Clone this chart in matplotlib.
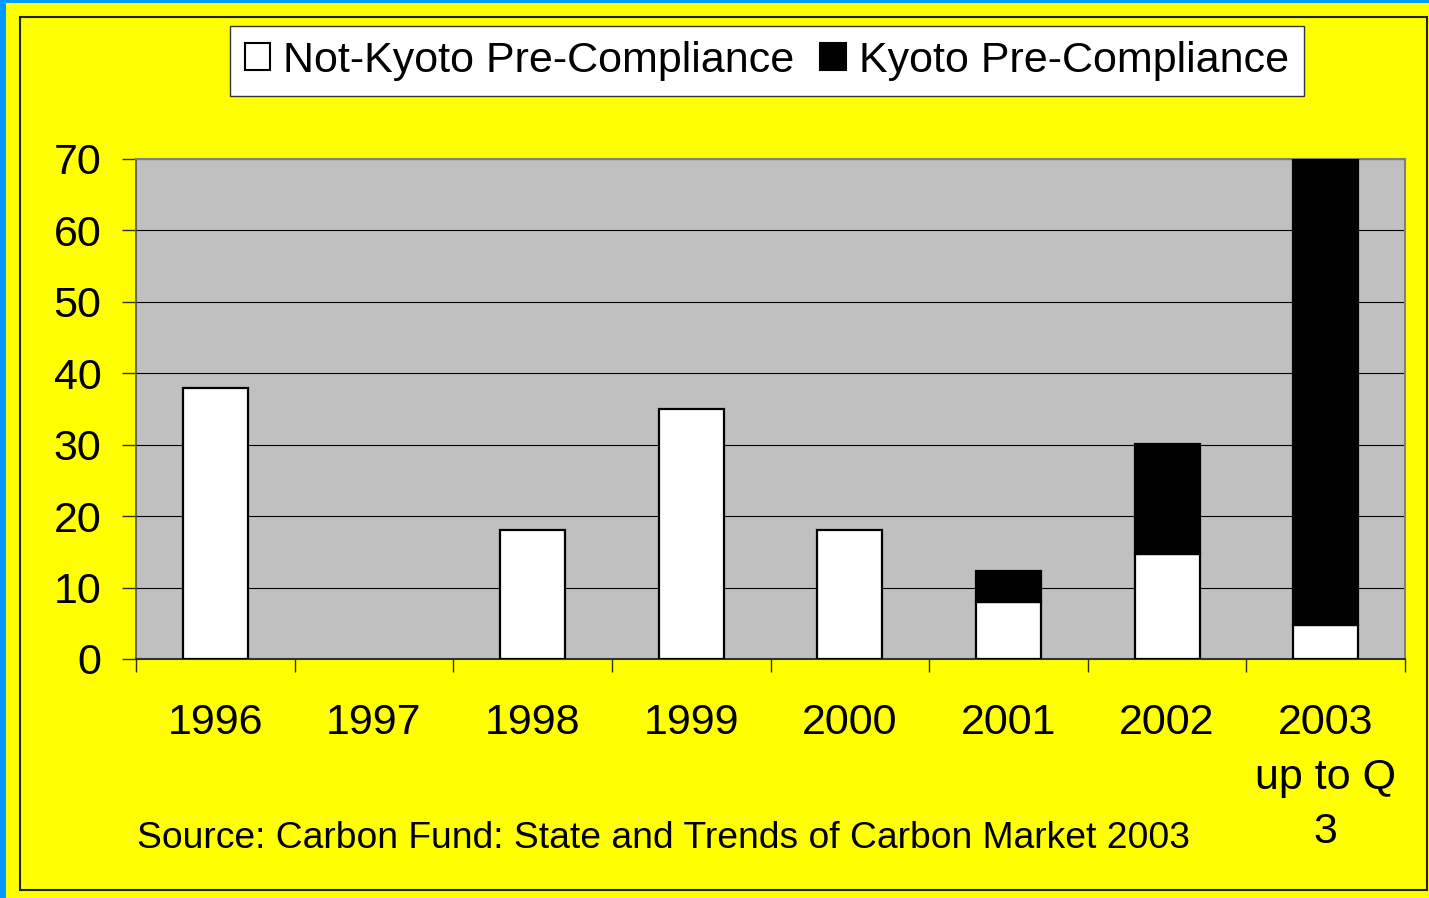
import matplotlib
matplotlib.use("Agg")
import matplotlib.pyplot as plt
from matplotlib.patches import Patch, Rectangle
import numpy as np

plt.rcParams['font.family'] = ['Liberation Sans', 'DejaVu Sans']

categories = ["1996", "1997", "1998", "1999", "2000", "2001", "2002", "2003\nup to Q\n3"]
not_kyoto = [38, 0, 18, 35, 18, 8, 14.7, 4.8]
kyoto = [0, 0, 0, 0, 0, 4.3, 15.4, 65.2]
series_names = ["Not-Kyoto Pre-Compliance", "Kyoto Pre-Compliance"]
yticks = [0, 10, 20, 30, 40, 50, 60, 70]
source_text = "Source: Carbon Fund: State and Trends of Carbon Market 2003"

W, H = 1429, 898
fig = plt.figure(figsize=(W / 100, H / 100), dpi=100)
fig.patch.set_facecolor('#FFFF00')

# blue edges (left and top)
fig.patches.append(Rectangle((0, 0), 6 / W, 1, transform=fig.transFigure,
                             facecolor='#0099FF', edgecolor='none', zorder=0))
fig.patches.append(Rectangle((0, 1 - 3 / H), 1, 3 / H, transform=fig.transFigure,
                             facecolor='#0099FF', edgecolor='none', zorder=0))
# inner black frame
fig.patches.append(Rectangle((20 / W, 1 - 890 / H), (1427 - 20) / W, (890 - 17) / H,
                             transform=fig.transFigure, facecolor='none',
                             edgecolor='#222200', linewidth=1.5, zorder=1))

ax = fig.add_axes([136 / W, 1 - 659 / H, (1405 - 136) / W, (659 - 159) / H])
ax.set_facecolor('#C0C0C0')

x = np.arange(len(categories))
bw = 0.41
lw_nk = [1.6 if v > 0 else 0 for v in not_kyoto]
lw_k = [1.6 if v > 0 else 0 for v in kyoto]
ax.bar(x, not_kyoto, bw, color='white', edgecolor='black', linewidth=lw_nk, zorder=3)
ax.bar(x, kyoto, bw, bottom=not_kyoto, color='black', edgecolor='black', linewidth=lw_k, zorder=3)

ax.set_xlim(-0.5, len(categories) - 0.5)
ax.set_ylim(0, 70)
ax.set_yticks(yticks)
ax.yaxis.grid(True, color='black', linewidth=0.8, zorder=1)
ax.set_axisbelow(True)

ax.set_xticks(x)
ax.set_xticklabels(categories, fontsize=31, linespacing=1.46)
ax.set_xticks(np.arange(-0.5, len(categories)), minor=True)
ax.tick_params(axis='x', which='major', length=0, pad=32)
ax.tick_params(axis='x', which='minor', length=9, width=1, color='#333300', direction='out')
ax.tick_params(axis='y', labelsize=31, length=10, width=1, color='#333300', pad=15)

for s in ['top', 'right']:
    ax.spines[s].set_color('#808080')
    ax.spines[s].set_linewidth(1.5)
ax.spines['left'].set_color('#555555')
ax.spines['left'].set_linewidth(1.2)
ax.spines['bottom'].set_color('#333333')
ax.spines['bottom'].set_linewidth(1.5)

handles = [Patch(facecolor='white', edgecolor='black', linewidth=1.5),
           Patch(facecolor='black', edgecolor='black', linewidth=1.5)]
leg = fig.legend(handles, series_names, loc='center', bbox_to_anchor=(767 / W, 1 - 61 / H),
                 ncol=2, fontsize=31, frameon=True, fancybox=False, shadow=False,
                 handlelength=0.6, handleheight=0.6, handletextpad=0.3,
                 columnspacing=0.6, borderpad=0.35)
leg.get_frame().set_edgecolor('#333333')
leg.get_frame().set_linewidth(1)
leg.get_frame().set_facecolor('white')
leg.get_frame().set_alpha(1)

fig.text(137 / W, 1 - 838 / H, source_text, fontsize=26.8, ha='left', va='center')

fig.savefig('out.png', dpi=100, facecolor=fig.get_facecolor())
